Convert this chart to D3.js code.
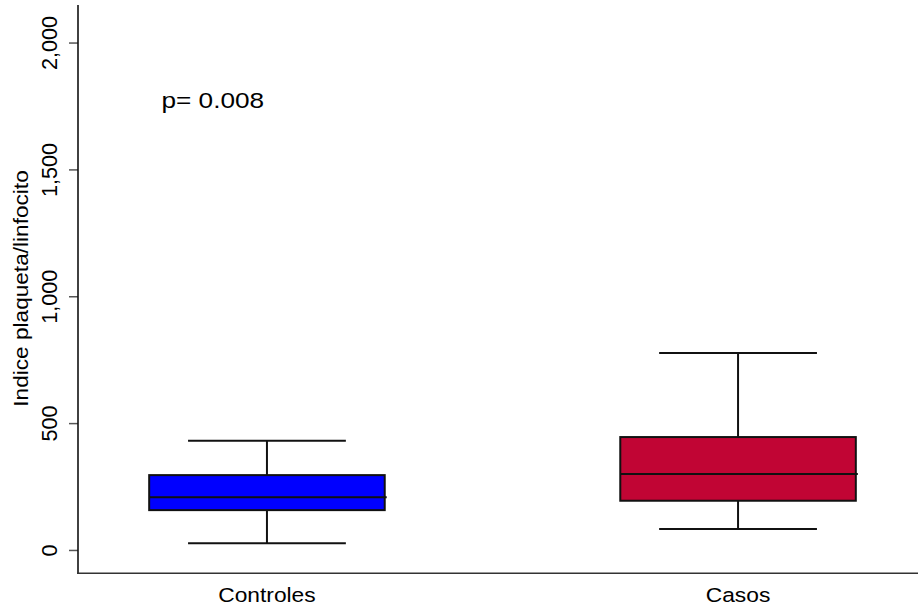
<!DOCTYPE html>
<html>
<head>
<meta charset="utf-8">
<script src="https://cdn.jsdelivr.net/npm/d3@7"></script>
<style>
  html, body { margin: 0; padding: 0; background: #fff; }
  svg { display: block; }
  text { font-family: "Liberation Sans", Arial, Helvetica, sans-serif; fill: #000; }
</style>
</head>
<body>
<svg id="chart" width="918" height="607"></svg>
<script>
// Box-plot summaries of the platelet/lymphocyte index per group
const categories = ["Controles", "Casos"];
const whiskerLow = [26, 83];
const q1 = [157, 194];
const median = [208, 299];
const q3 = [295, 445];
const whiskerHigh = [430, 776];
const boxColors = ["#0000ff", "#c10534"];
const yTicks = [0, 500, 1000, 1500, 2000];
const yTitle = "Indice plaqueta/linfocito";
const pLabel = "p= 0.008";

const svg = d3.select("#chart");
const W = 918, H = 607;

const y = d3.scaleLinear().domain([-92, 2148]).range([573.3, 5]);
const x = d3.scalePoint().domain(categories).range([87, 918]).padding(0.382);
const boxW = x.step() * 0.5;
const capW = x.step() * 0.335;

const data = categories.map((c, i) => ({
  cat: c, lo: whiskerLow[i], q1: q1[i], med: median[i], q3: q3[i], hi: whiskerHigh[i], color: boxColors[i]
}));

// y axis with rotated tick labels
const yAxis = d3.axisLeft(y).tickValues(yTicks).tickSize(9).tickFormat(d3.format(",")).tickSizeOuter(0);
const gy = svg.append("g").attr("transform", "translate(78,0)").call(yAxis);
gy.select(".domain").remove();
gy.selectAll(".tick line").attr("stroke", "#555").attr("stroke-width", 1.5);
gy.selectAll(".tick text")
  .attr("font-size", 22.5)
  .attr("fill", "#111")
  .attr("text-anchor", "middle")
  .attr("transform", "rotate(-90)")
  .attr("x", 0)
  .attr("y", -21)
  .attr("dy", 0)
  .each(function() {
    d3.select(this).attr("textLength", this.getComputedTextLength() * 0.96).attr("lengthAdjust", "spacingAndGlyphs");
  });

// axis lines
svg.append("line").attr("x1", 78).attr("x2", 78).attr("y1", 5).attr("y2", 574)
  .attr("stroke", "#111").attr("stroke-width", 1.6);
svg.append("line").attr("x1", 77).attr("x2", W).attr("y1", 573.3).attr("y2", 573.3)
  .attr("stroke", "#333").attr("stroke-width", 1.6);

// category labels
const xLabels = svg.append("g").selectAll("text").data(categories).join("text")
  .attr("x", d => x(d))
  .attr("y", 601.5)
  .attr("font-size", 20.5)
  .attr("text-anchor", "middle")
  .text(d => d);
xLabels.each(function() {
  const n = this.getComputedTextLength();
  d3.select(this).attr("textLength", n * 1.11).attr("lengthAdjust", "spacingAndGlyphs");
});

// y title
const yt = svg.append("text")
  .attr("transform", "translate(27.5,288.5) rotate(-90)")
  .attr("text-anchor", "middle")
  .attr("font-size", 19.5)
  .text(yTitle);
yt.attr("textLength", yt.node().getComputedTextLength() * 1.16).attr("lengthAdjust", "spacingAndGlyphs");

// boxes
const g = svg.append("g").selectAll("g").data(data).join("g");
g.append("line")
  .attr("x1", d => x(d.cat)).attr("x2", d => x(d.cat))
  .attr("y1", d => y(d.hi)).attr("y2", d => y(d.q3))
  .attr("stroke", "#111").attr("stroke-width", 2);
g.append("line")
  .attr("x1", d => x(d.cat)).attr("x2", d => x(d.cat))
  .attr("y1", d => y(d.q1)).attr("y2", d => y(d.lo))
  .attr("stroke", "#111").attr("stroke-width", 2);
g.append("line")
  .attr("x1", d => x(d.cat) - capW / 2).attr("x2", d => x(d.cat) + capW / 2)
  .attr("y1", d => y(d.hi)).attr("y2", d => y(d.hi))
  .attr("stroke", "#111").attr("stroke-width", 2);
g.append("line")
  .attr("x1", d => x(d.cat) - capW / 2).attr("x2", d => x(d.cat) + capW / 2)
  .attr("y1", d => y(d.lo)).attr("y2", d => y(d.lo))
  .attr("stroke", "#111").attr("stroke-width", 2);
g.append("rect")
  .attr("x", d => x(d.cat) - boxW / 2)
  .attr("width", boxW)
  .attr("y", d => y(d.q3))
  .attr("height", d => y(d.q1) - y(d.q3))
  .attr("fill", d => d.color)
  .attr("stroke", "#111").attr("stroke-width", 2);
g.append("line")
  .attr("x1", d => x(d.cat) - boxW / 2).attr("x2", d => x(d.cat) + boxW / 2 + 2)
  .attr("y1", d => y(d.med)).attr("y2", d => y(d.med))
  .attr("stroke", "#111").attr("stroke-width", 2);

// p-value annotation
const pt = svg.append("text")
  .attr("x", 161.5).attr("y", 108.3)
  .attr("font-size", 22)
  .text(pLabel);
pt.attr("textLength", pt.node().getComputedTextLength() * 1.19).attr("lengthAdjust", "spacingAndGlyphs");
</script>
</body>
</html>
